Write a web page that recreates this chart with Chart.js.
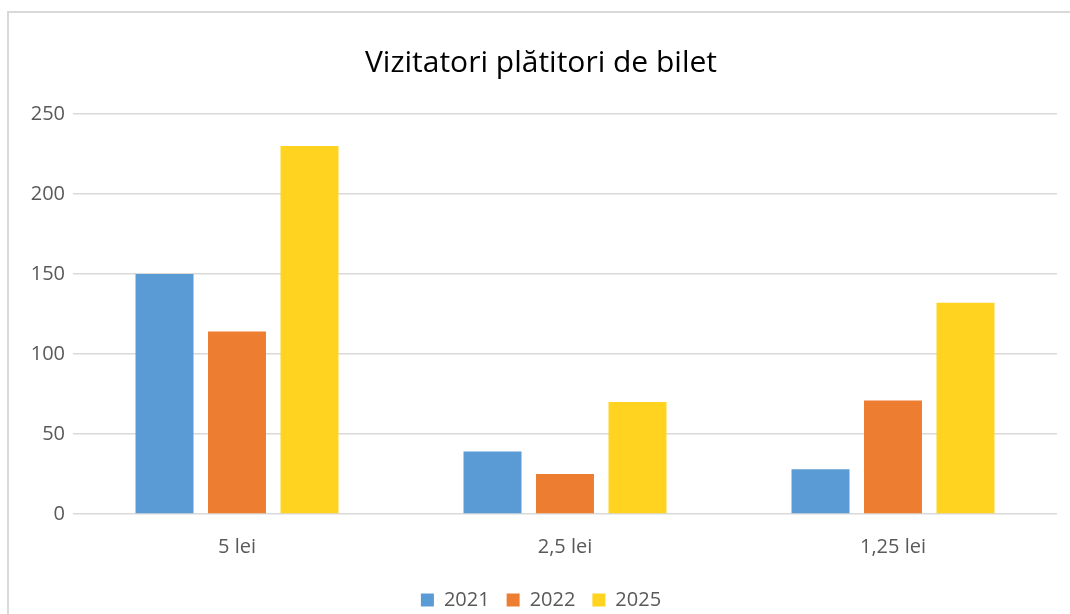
<!DOCTYPE html>
<html>
<head>
<meta charset="utf-8">
<script src="https://cdn.jsdelivr.net/npm/chart.js@4"></script>
<style>
  body { margin: 0; background: #fff; overflow: hidden; }
  #wrap { position: relative; width: 1070px; height: 614px; }
  #frame { position: absolute; left: 7px; top: 11px; right: -4px; bottom: -4px; border-left: 2px solid #d9d9d9; border-top: 2px solid #d9d9d9; }
  canvas { position: absolute; left: 0; top: 0; }
</style>
</head>
<body>
<div id="wrap">
  <div id="frame"></div>
  <canvas id="bar-chart" width="1070" height="614"></canvas>
</div>
<script>
// chart data
const categories = ['5 lei', '2,5 lei', '1,25 lei'];
const series2021 = [150, 39, 28];
const series2022 = [114, 25, 71];
const series2025 = [230, 70, 132];
const yTicks = [0, 50, 100, 150, 200, 250];

const font = "'Open Sans', 'Noto Sans', sans-serif";

new Chart(document.getElementById('bar-chart'), {
  type: 'bar',
  data: {
    labels: categories,
    datasets: [
      { label: '2021', data: series2021, backgroundColor: '#5b9bd5' },
      { label: '2022', data: series2022, backgroundColor: '#ed7d31' },
      { label: '2025', data: series2025, backgroundColor: '#ffd320' }
    ]
  },
  options: {
    responsive: false,
    animation: false,
    categoryPercentage: 0.663,
    barPercentage: 0.8,
    layout: { padding: { left: 25, right: 13, top: 0, bottom: -6 } },
    plugins: {
      title: {
        display: true,
        text: 'Vizitatori plătitori de bilet',
        color: '#000',
        font: { family: font, size: 30, weight: 'normal' },
        padding: { top: 45, bottom: 33 }
      },
      legend: {
        position: 'bottom',
        labels: {
          color: '#595959',
          font: { family: font, size: 20 },
          boxWidth: 13,
          boxHeight: 13,
          padding: 17
        }
      },
      tooltip: { enabled: false }
    },
    scales: {
      x: {
        grid: { display: false },
        border: { display: false },
        ticks: { color: '#595959', font: { family: font, size: 20 }, padding: 13 },
        afterFit: function (scale) { scale.height = 59; }
      },
      y: {
        min: 0,
        max: 250,
        afterBuildTicks: function (scale) { scale.ticks = yTicks.map(v => ({ value: v })); },
        grid: { color: '#d9d9d9', lineWidth: 1.5, drawTicks: false },
        border: { display: false },
        ticks: { color: '#595959', font: { family: font, size: 20 }, padding: 8 },
        afterFit: function (scale) { scale.width = 48; }
      }
    }
  }
});
</script>
</body>
</html>
